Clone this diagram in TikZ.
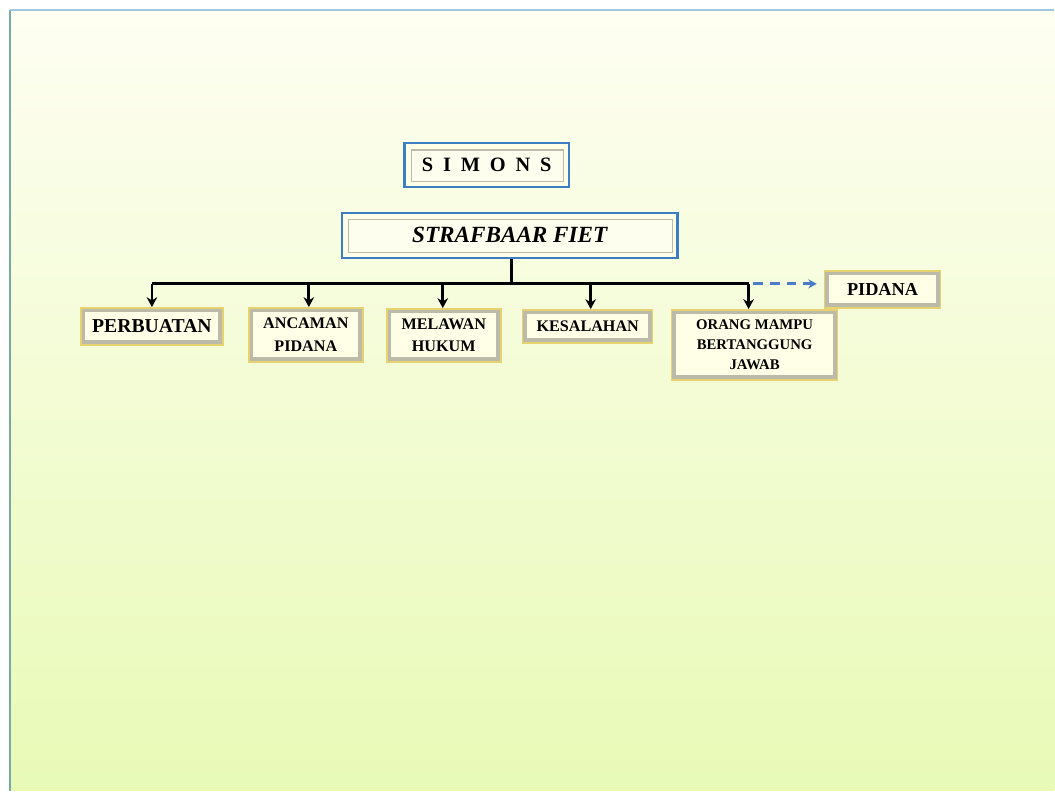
\documentclass[tikz,border=0pt]{standalone}
\usepackage{fontspec}
\setmainfont{Liberation Serif}
\usetikzlibrary{arrows.meta}
\definecolor{bgtop}{RGB}{254,254,242}
\definecolor{bgmid}{RGB}{246,252,214}
\definecolor{bgbot}{RGB}{232,250,182}
\definecolor{edgeblue}{RGB}{60,125,196}
\definecolor{edgegold}{RGB}{230,210,110}
\definecolor{framegray}{RGB}{188,186,168}
\definecolor{boxfill}{RGB}{255,255,232}
\definecolor{dashblue}{RGB}{74,124,200}
\tikzset{
  goldbox/.style={draw=edgegold, line width=1.1pt, fill=framegray, text=black,
    font=\bfseries, align=center, inner sep=0pt,
    path picture={\fill[boxfill] ([shift={(3.2pt,-3.2pt)}]path picture bounding box.north west)
      rectangle ([shift={(-3.2pt,3.2pt)}]path picture bounding box.south east);}},
  bluebox/.style={draw=edgeblue, line width=1.8pt, fill=boxfill, text=black,
    font=\bfseries, inner sep=0pt,
    path picture={\draw[framegray, line width=0.8pt, fill=bgtop!60!boxfill]
      ([shift={(5pt,-5pt)}]path picture bounding box.north west)
      rectangle ([shift={(-4pt,4pt)}]path picture bounding box.south east);}},
  line/.style={line width=2pt, black},
  arr/.style={line, -{Stealth[length=7pt,width=7.5pt]}},
  dasharr/.style={dashblue, line width=2pt, dash pattern=on 7pt off 5pt,
    -{Stealth[length=6pt,width=6.5pt]}}
}

\begin{document}
\begin{tikzpicture}[x=0.025cm,y=-0.025cm]
  % background
  \fill[white] (0,0) rectangle (1055,791);
  \shade[top color=bgtop, middle color=bgmid, bottom color=bgbot] (11,11) rectangle (1055,791);
  \draw[line width=1.2pt, color={rgb,255:red,120;green,170;blue,160}] (10,10) -- (10,791);
  \draw[line width=0.8pt, color={rgb,255:red,160;green,200;blue,225}] (10,10) -- (1055,10);
  \useasboundingbox (0,0) rectangle (1055,791);

  % title boxes
  \node[bluebox, minimum width=4.125cm, minimum height=1.1cm] (simons) at (487,165)
    {\fontsize{14.5}{16}\selectfont\spaceskip=7pt S I M O N S};
  \node[bluebox, minimum width=8.4cm, minimum height=1.125cm] (strafbaar) at (510,235.5)
    {\fontsize{16.5}{20}\selectfont\itshape STRAFBAAR FIET};

  % elements
  \node[goldbox, minimum width=3.55cm, minimum height=0.925cm, font=\bfseries\fontsize{14}{16}\selectfont]
    (perbuatan) at (152,326.5) {PERBUATAN};
  \node[goldbox, minimum width=2.85cm, minimum height=1.35cm, font=\bfseries\fontsize{11.5}{16}\selectfont]
    (ancaman) at (306,335) {ANCAMAN\\PIDANA};
  \node[goldbox, minimum width=2.85cm, minimum height=1.325cm, font=\bfseries\fontsize{11.5}{16}\selectfont]
    (melawan) at (444,335.5) {MELAWAN\\HUKUM};
  \node[goldbox, minimum width=3.25cm, minimum height=0.825cm, font=\bfseries\fontsize{11.5}{14}\selectfont]
    (kesalahan) at (588,326.5) {KESALAHAN};
  \node[goldbox, minimum width=4.15cm, minimum height=1.75cm, font=\bfseries\fontsize{10.5}{14}\selectfont]
    (orang) at (755,345) {ORANG MAMPU\\BERTANGGUNG\\JAWAB};
  \node[goldbox, minimum width=2.9cm, minimum height=0.925cm, font=\bfseries\fontsize{13}{15}\selectfont]
    (pidana) at (883,289.5) {PIDANA};

  % connectors
  \coordinate (split) at (512,284);
  \draw[line] (strafbaar.south -| split) -- (split);
  \draw[line] (perbuatan.north |- split) -- ([xshift=-6*0.025cm]orang.north |- split);
  \foreach \n/\dx in {perbuatan/0,ancaman/3,melawan/-1,kesalahan/3,orang/-6}
    \draw[arr] ([xshift=\dx*0.025cm]\n.north |- split) -- ([xshift=\dx*0.025cm]\n.north);
  \draw[dasharr, shorten <=3pt, shorten >=5pt] ([xshift=-6*0.025cm]orang.north |- split) -- (pidana.west |- split);
\end{tikzpicture}
\end{document}
